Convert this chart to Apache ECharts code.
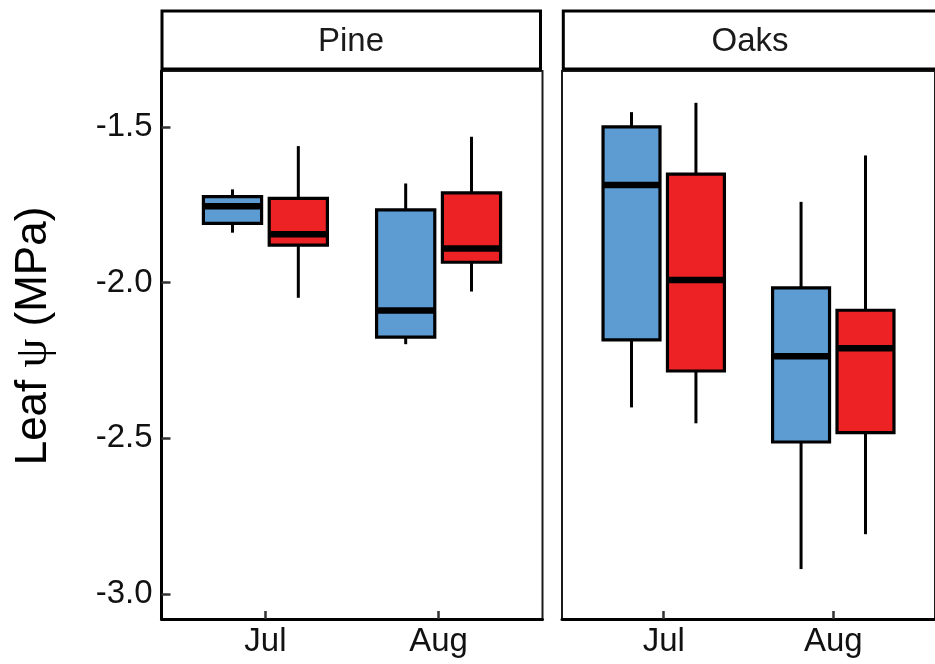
<!DOCTYPE html>
<html>
<head>
<meta charset="utf-8">
<script src="https://cdn.jsdelivr.net/npm/echarts@6/dist/echarts.min.js"></script>
<style>
html,body{margin:0;padding:0;background:#fff;}
#chart{width:935px;height:664px;}
</style>
</head>
<body>
<div id="chart"></div>
<script>
// ---- data (values: [low whisker, Q1, median, Q3, high whisker]) ----
const panels = ['Pine', 'Oaks'];
const months = ['Jul', 'Aug'];
const yTicks = [-3.0, -2.5, -2.0, -1.5];
const yLabel = 'Leaf ψ (MPa)';

const pineBlue = [
  [-1.840, -1.810, -1.755, -1.724, -1.701],
  [-2.198, -2.175, -2.090, -1.767, -1.682]
];
const pineRed = [
  [-2.049, -1.880, -1.845, -1.730, -1.562],
  [-2.029, -1.935, -1.891, -1.712, -1.532]
];
const oaksBlue = [
  [-2.401, -2.184, -1.687, -1.500, -1.453],
  [-2.920, -2.512, -2.237, -2.017, -1.741]
];
const oaksRed = [
  [-2.452, -2.284, -1.992, -1.652, -1.423],
  [-2.808, -2.482, -2.211, -2.089, -1.592]
];

// ---- styling ----
const FONT = 'Liberation Sans, Arial, sans-serif';
const BLUE = '#5D9BD3';
const RED = '#ED2224';
const DODGE = 0.19;     // x-units offset of each box from month centre
const HALF = 0.168;     // half box width in x-units

function toData(arr) {
  return arr.map((v, i) => [i + 1].concat(v));
}

function boxRenderer(offset, color) {
  return function (params, api) {
    const x = api.value(0) + offset;
    const lo = api.value(1), q1 = api.value(2), med = api.value(3), q3 = api.value(4), hi = api.value(5);
    const pHi = api.coord([x, hi]);
    const pQ3 = api.coord([x, q3]);
    const pQ1 = api.coord([x, q1]);
    const pLo = api.coord([x, lo]);
    const pMed = api.coord([x, med]);
    const xl = api.coord([x - HALF, med])[0];
    const xr = api.coord([x + HALF, med])[0];
    const lineStyle = { stroke: '#000', lineWidth: 3, lineCap: 'butt' };
    return {
      type: 'group',
      children: [
        { type: 'line', shape: { x1: pHi[0], y1: pHi[1], x2: pQ3[0], y2: pQ3[1] }, style: lineStyle },
        { type: 'line', shape: { x1: pQ1[0], y1: pQ1[1], x2: pLo[0], y2: pLo[1] }, style: lineStyle },
        { type: 'rect', shape: { x: xl, y: pQ3[1], width: xr - xl, height: pQ1[1] - pQ3[1] },
          style: { fill: color, stroke: '#000', lineWidth: 3.2 } },
        { type: 'line', shape: { x1: xl, y1: pMed[1], x2: xr, y2: pMed[1] },
          style: { stroke: '#000', lineWidth: 6.5, lineCap: 'butt' } }
      ]
    };
  };
}

const gridDefs = [
  { left: 161.5, top: 71, width: 381, height: 548 },
  { left: 562, top: 71, width: 381, height: 548 }
];

const grids = gridDefs.map(g => Object.assign({
  show: true, borderColor: '#1a1a1a', borderWidth: 2, backgroundColor: '#fff', containLabel: false
}, g));

const xAxes = gridDefs.map((g, i) => ({
  type: 'value', gridIndex: i, min: 0.4, max: 2.6,
  axisLine: { show: true, onZero: false, lineStyle: { color: '#000', width: 3 } },
  axisTick: { show: true, inside: true, length: 8, customValues: [1, 2], lineStyle: { color: '#333', width: 2.5 } },
  axisLabel: { show: true, customValues: [1, 2], formatter: v => months[Math.round(v) - 1] || '',
    fontFamily: FONT, fontSize: 33, color: '#111', margin: 6 },
  splitLine: { show: false }
}));

const yAxes = gridDefs.map((g, i) => ({
  type: 'value', gridIndex: i, min: -3.0803, max: -1.3209,
  axisLine: { show: i === 0, onZero: false, lineStyle: { color: '#000', width: 3 } },
  axisTick: { show: i === 0, inside: true, length: 9, customValues: yTicks, lineStyle: { color: '#333', width: 2.5 } },
  axisLabel: { show: i === 0, customValues: yTicks, formatter: v => v.toFixed(1),
    fontFamily: FONT, fontSize: 33, color: '#111', margin: 9 },
  splitLine: { show: false }
}));

const groups = [
  { panel: 0, name: 'Pine blue', data: pineBlue, offset: -DODGE, color: BLUE },
  { panel: 0, name: 'Pine red', data: pineRed, offset: DODGE, color: RED },
  { panel: 1, name: 'Oaks blue', data: oaksBlue, offset: -DODGE, color: BLUE },
  { panel: 1, name: 'Oaks red', data: oaksRed, offset: DODGE, color: RED }
];

const series = groups.map(s => ({
  type: 'custom', name: s.name, xAxisIndex: s.panel, yAxisIndex: s.panel,
  renderItem: boxRenderer(s.offset, s.color),
  encode: { x: 0, y: [1, 2, 3, 4, 5] },
  data: toData(s.data), z: 5
}));

const stripX = [[162, 378.5], [563.3, 400]];
const stripTextX = [351, 750];
const graphic = [];
panels.forEach((p, i) => {
  graphic.push({
    type: 'rect', z: 50,
    shape: { x: stripX[i][0], y: 11, width: stripX[i][1], height: 58 },
    style: { fill: '#fff', stroke: '#000', lineWidth: 3 }
  });
  graphic.push({
    type: 'text', z: 51, x: stripTextX[i], y: 42,
    style: { text: p, fontFamily: FONT, fontSize: 33, fill: '#1a1a1a', align: 'center', verticalAlign: 'middle' }
  });
});
graphic.push({
  type: 'text', z: 51, x: 34, y: 336, rotation: Math.PI / 2,
  style: {
    text: '{a|Leaf }{p|ψ}{a| (MPa)}',
    align: 'center', verticalAlign: 'middle',
    rich: {
      a: { fontFamily: FONT, fontSize: 44, fill: '#000' },
      p: { fontFamily: 'Liberation Serif, DejaVu Serif, serif', fontSize: 46, fill: '#000' }
    }
  }
});

const chart = echarts.init(document.getElementById('chart'), null, { renderer: 'canvas' });
chart.setOption({
  animation: false,
  backgroundColor: '#fff',
  grid: grids,
  xAxis: xAxes,
  yAxis: yAxes,
  series: series,
  graphic: graphic
});
</script>
</body>
</html>
